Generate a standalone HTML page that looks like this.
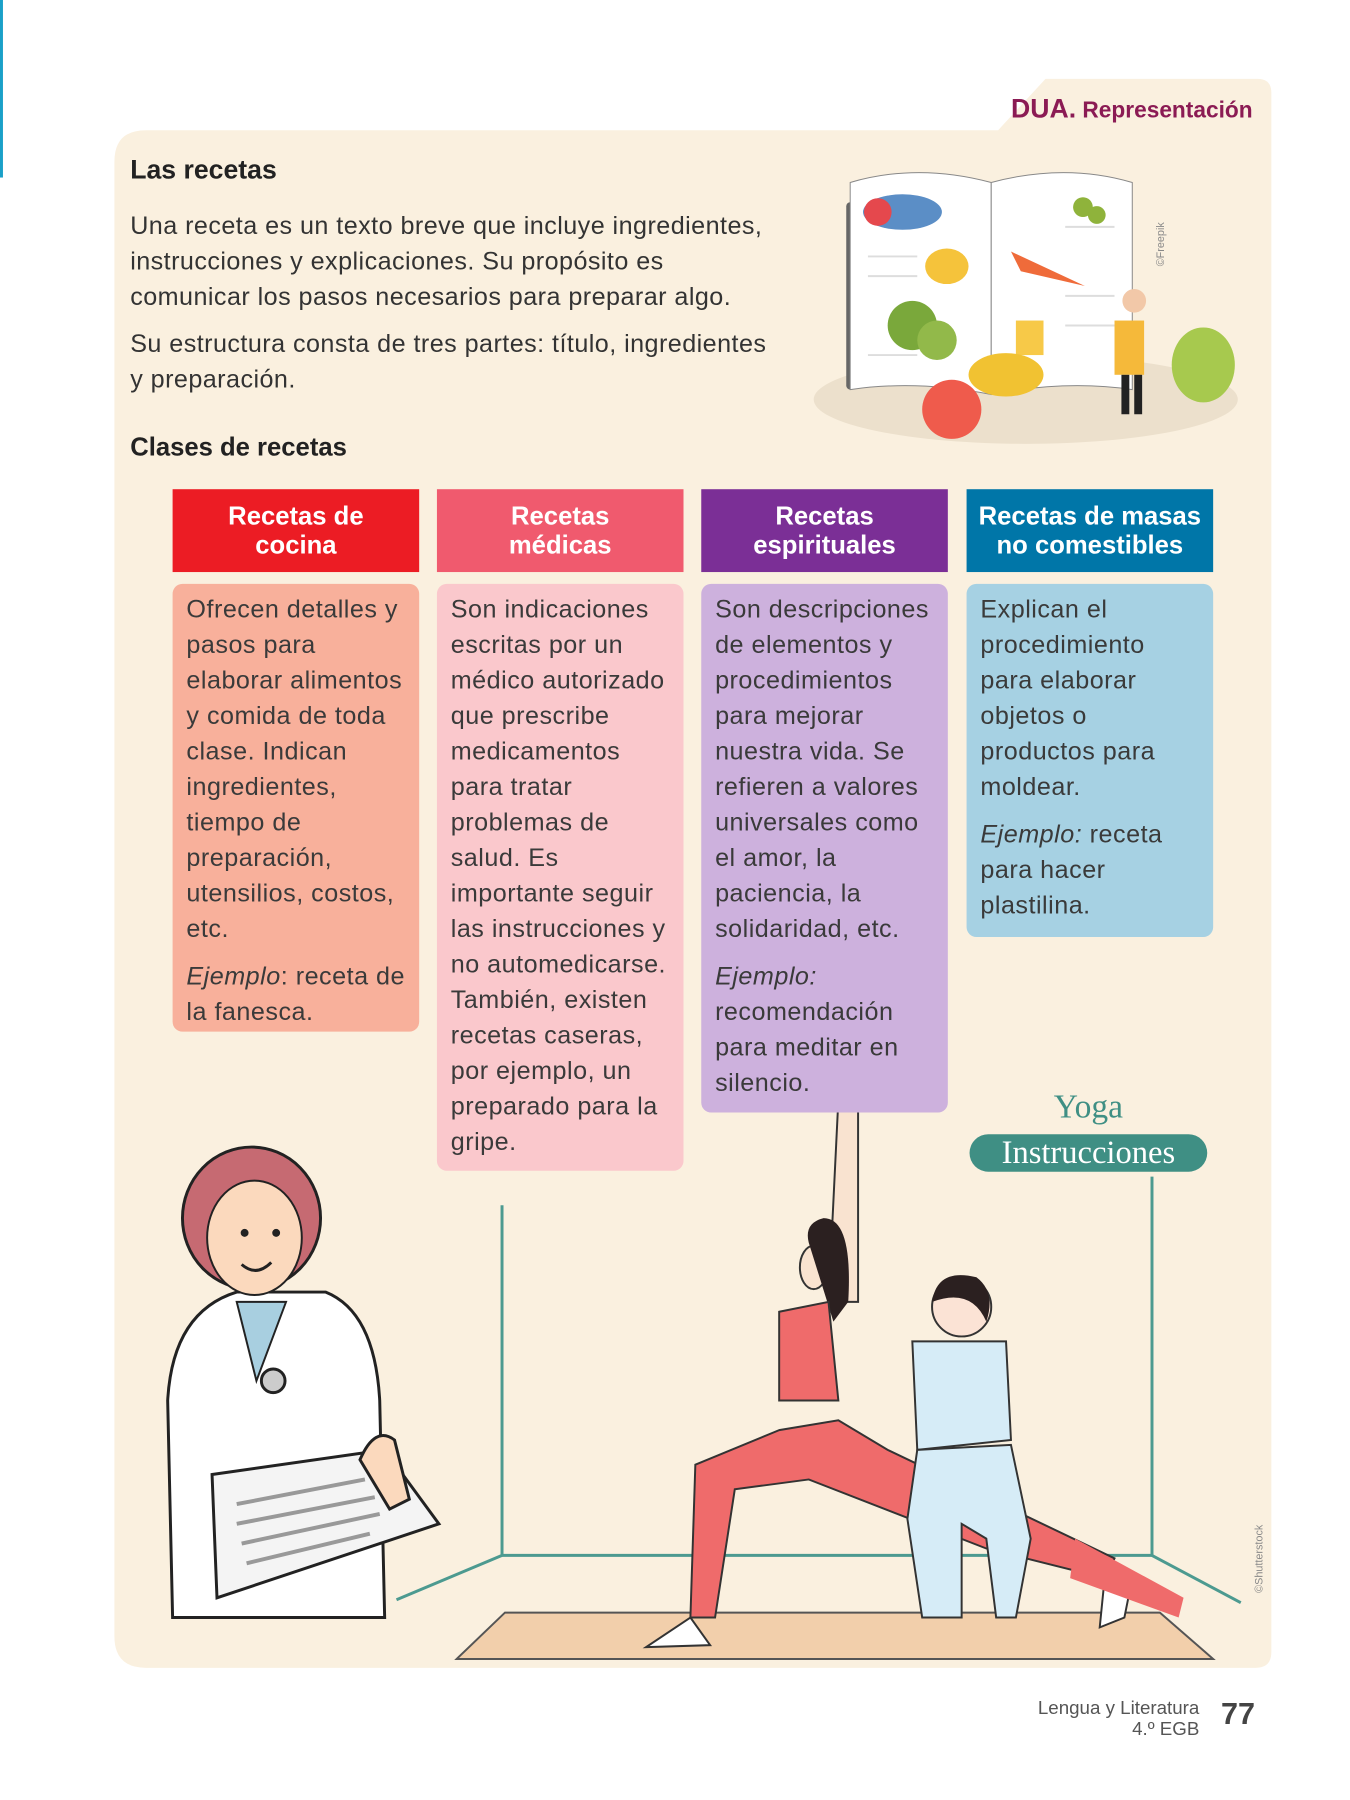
<!DOCTYPE html>
<html><head><meta charset="utf-8"><style>
body{margin:0;width:1350px;height:1800px;position:relative;background:#fff;font-family:"Liberation Sans",sans-serif;color:#333;overflow:hidden}
#w{position:absolute;left:0;top:0;width:1369px;height:1825px;transform:scale(0.9863);transform-origin:0 0}
.abs{position:absolute}
.hd{position:absolute;top:496px;height:84px;width:250px;color:#fff;font-weight:bold;font-size:26px;line-height:29px;text-align:center;display:flex;align-items:center;justify-content:center}
.bd{position:absolute;top:592px;width:250px;border-radius:10px;box-sizing:border-box;padding:8px 4px 0 14px;font-size:25.5px;line-height:36px;color:#3a3a3a;white-space:nowrap;letter-spacing:0.5px}
.bd p{margin:0 0 12px}
p{margin:0}
</style></head><body><div id="w">
<div class="abs" style="left:0;top:0;width:3px;height:180px;background:#1aa0c8"></div>
<svg class="abs" style="left:0;top:0" width="1369" height="1825">
<path d="M1012 132 L1060 80 L1275 80 Q1289 80 1289 94 L1289 1675 Q1289 1691 1273 1691 L148 1691 Q116 1691 116 1659 L116 164 Q116 132 148 132 Z" fill="#faf0df"/>
<ellipse cx="1040" cy="405" rx="215" ry="45" fill="#ece0cc"/>
<rect x="858" y="205" width="10" height="190" fill="#666" rx="4"/>
<path d="M862 185 Q930 165 1005 185 L1005 400 Q930 385 862 395 Z" fill="#fff" stroke="#888"/>
<path d="M1005 185 Q1080 165 1148 185 L1148 395 Q1080 385 1005 400 Z" fill="#fff" stroke="#888"/>
<g stroke="#ddd" stroke-width="2"><line x1="880" y1="260" x2="930" y2="260"/><line x1="880" y1="280" x2="930" y2="280"/><line x1="1080" y1="230" x2="1130" y2="230"/><line x1="1080" y1="300" x2="1130" y2="300"/><line x1="1080" y1="330" x2="1130" y2="330"/><line x1="880" y1="360" x2="930" y2="360"/></g>
<ellipse cx="915" cy="215" rx="40" ry="18" fill="#5b8ec6"/><circle cx="890" cy="215" r="14" fill="#e5484d"/>
<ellipse cx="960" cy="270" rx="22" ry="18" fill="#f5c33b"/>
<circle cx="1098" cy="210" r="10" fill="#8fb33b"/><circle cx="1112" cy="218" r="9" fill="#8fb33b"/>
<path d="M1025 255 L1100 290 L1035 275 Z" fill="#ef6b3a"/>
<circle cx="925" cy="330" r="25" fill="#7aa83b"/><circle cx="950" cy="345" r="20" fill="#92b94a"/>
<rect x="1030" y="325" width="28" height="35" fill="#f7c948"/>
<ellipse cx="1020" cy="380" rx="38" ry="22" fill="#f1c232"/>
<circle cx="965" cy="415" r="30" fill="#ef5b4c"/>
<ellipse cx="1220" cy="370" rx="32" ry="38" fill="#a7c94e"/>
<rect x="1130" y="325" width="30" height="55" fill="#f5b93a"/><circle cx="1150" cy="305" r="12" fill="#f2c8a8"/>
<rect x="1137" y="380" width="8" height="40" fill="#222"/><rect x="1150" y="380" width="8" height="40" fill="#222"/>
<g stroke="#4c9a90" stroke-width="3" fill="none"><line x1="509" y1="1222" x2="509" y2="1577"/><line x1="1168" y1="1193" x2="1168" y2="1577"/><line x1="509" y1="1577" x2="1168" y2="1577"/><line x1="509" y1="1577" x2="402" y2="1622"/><line x1="1168" y1="1577" x2="1258" y2="1625"/></g>
<path d="M463 1682 L512 1635 L1176 1635 L1230 1682 Z" fill="#f2cfab" stroke="#555" stroke-width="2"/>
<path d="M175 1640 L170 1420 Q175 1330 240 1310 L330 1310 Q380 1330 385 1420 L390 1640 Z" fill="#fff" stroke="#222" stroke-width="3"/>
<path d="M240 1320 L260 1400 L290 1320 Z" fill="#a8cfe0" stroke="#222" stroke-width="2"/>
<ellipse cx="255" cy="1235" rx="70" ry="72" fill="#c66a72" stroke="#222" stroke-width="3"/>
<ellipse cx="258" cy="1255" rx="48" ry="58" fill="#fbd9bd" stroke="#222" stroke-width="2"/>
<circle cx="248" cy="1250" r="4" fill="#222"/><circle cx="280" cy="1250" r="4" fill="#222"/>
<path d="M245 1282 Q260 1295 275 1280" stroke="#222" stroke-width="3" fill="none"/>
<circle cx="277" cy="1400" r="12" fill="#ccc" stroke="#222" stroke-width="3"/>
<path d="M215 1495 L390 1470 L445 1545 L220 1620 Z" fill="#f4f4f4" stroke="#222" stroke-width="3"/>
<g stroke="#999" stroke-width="4"><line x1="240" y1="1525" x2="370" y2="1500"/><line x1="240" y1="1545" x2="380" y2="1518"/><line x1="245" y1="1565" x2="385" y2="1535"/><line x1="250" y1="1585" x2="375" y2="1555"/></g>
<path d="M365 1480 Q380 1445 400 1460 L415 1520 L395 1530 Z" fill="#fbd9bd" stroke="#222" stroke-width="3"/>
<path d="M850 1115 L870 1110 L870 1320 L840 1320 Z" fill="#f9e3d0" stroke="#333" stroke-width="2"/>
<ellipse cx="825" cy="1285" rx="14" ry="22" fill="#f9e3d0" stroke="#333" stroke-width="2"/>
<path d="M820 1260 Q815 1240 835 1235 Q865 1235 860 1320 L845 1340 Z" fill="#2b2020"/>
<path d="M790 1330 L840 1320 L850 1420 L790 1420 Z" fill="#ef6b6b" stroke="#333" stroke-width="2"/>
<path d="M790 1450 L705 1485 L700 1640 L725 1640 L745 1510 L820 1500 L1000 1570 L1120 1600 L1130 1580 L900 1470 L850 1440 Z" fill="#ef6b6b" stroke="#333" stroke-width="2"/>
<path d="M700 1640 L655 1670 L720 1668 Z" fill="#fff" stroke="#333" stroke-width="2"/>
<path d="M1120 1600 L1115 1650 L1140 1640 L1148 1600 Z" fill="#fff" stroke="#333" stroke-width="2"/>
<circle cx="975" cy="1325" r="30" fill="#fbe3d5" stroke="#333" stroke-width="2"/>
<path d="M945 1320 Q950 1285 990 1295 Q1010 1310 1000 1340 Q985 1305 945 1320 Z" fill="#2b2020"/>
<path d="M925 1360 L1020 1360 L1025 1460 L930 1470 Z" fill="#d6ecf7" stroke="#333" stroke-width="2"/>
<path d="M930 1470 L1025 1465 L1045 1560 L1030 1640 L1010 1640 L1000 1560 L975 1545 L975 1640 L935 1640 L920 1540 Z" fill="#d6ecf7" stroke="#333" stroke-width="2"/>
<path d="M1090 1560 L1200 1620 L1195 1640 L1085 1600 Z" fill="#ef6b6b"/>
<text x="1280" y="1615" font-size="11" fill="#888" transform="rotate(-90 1280 1615)" font-family="Liberation Sans">©Shutterstock</text>
<text x="1180" y="270" font-size="11" fill="#888" transform="rotate(-90 1180 270)" font-family="Liberation Sans">©Freepik</text>
</svg>
<div class="abs" style="right:99px;top:95px;font-size:23px;color:#8b1b54"><b style="font-size:27px">DUA.</b> <b>Representación</b></div>
<div class="abs" style="left:132px;top:157px;font-size:27px;font-weight:bold;color:#222">Las recetas</div>
<div class="abs" style="left:132px;top:211px;width:760px;font-size:25.5px;line-height:36px;color:#333;white-space:nowrap;letter-spacing:0.45px">
<p>Una receta es un texto breve que incluye ingredientes,<br>instrucciones y explicaciones. Su propósito es<br>comunicar los pasos necesarios para preparar algo.</p>
<p style="margin-top:12px">Su estructura consta de tres partes: título, ingredientes<br>y preparación.</p></div>
<div class="abs" style="left:132px;top:438px;font-size:26px;font-weight:bold;color:#222">Clases de recetas</div>
<div class="hd" style="left:175px;background:#ec1c24">Recetas de<br>cocina</div>
<div class="hd" style="left:443px;background:#f05a6e">Recetas<br>médicas</div>
<div class="hd" style="left:711px;background:#7b2f96">Recetas<br>espirituales</div>
<div class="hd" style="left:980px;background:#0076a8">Recetas de masas<br>no comestibles</div>
<div class="bd" style="left:175px;height:454px;background:#f8b09b"><p>Ofrecen detalles y<br>pasos para<br>elaborar alimentos<br>y comida de toda<br>clase. Indican<br>ingredientes,<br>tiempo de<br>preparación,<br>utensilios, costos,<br>etc.</p><p><i>Ejemplo</i>: receta de<br>la fanesca.</p></div>
<div class="bd" style="left:443px;height:595px;background:#fac8cc"><p>Son indicaciones<br>escritas por un<br>médico autorizado<br>que prescribe<br>medicamentos<br>para tratar<br>problemas de<br>salud. Es<br>importante seguir<br>las instrucciones y<br>no automedicarse.<br>También, existen<br>recetas caseras,<br>por ejemplo, un<br>preparado para la<br>gripe.</p></div>
<div class="bd" style="left:711px;height:536px;background:#cdb1dd"><p>Son descripciones<br>de elementos y<br>procedimientos<br>para mejorar<br>nuestra vida. Se<br>refieren a valores<br>universales como<br>el amor, la<br>paciencia, la<br>solidaridad, etc.</p><p><i>Ejemplo:</i><br>recomendación<br>para meditar en<br>silencio.</p></div>
<div class="bd" style="left:980px;height:358px;background:#a6d1e3"><p>Explican el<br>procedimiento<br>para elaborar<br>objetos o<br>productos para<br>moldear.</p><p><i>Ejemplo:</i> receta<br>para hacer<br>plastilina.</p></div>
<div class="abs" style="left:983px;top:1104px;width:241px;text-align:center;font-family:'Liberation Serif',serif;font-size:34px;color:#3f8f84">Yoga</div>
<div class="abs" style="left:983px;top:1150px;width:241px;height:38px;border-radius:19px;background:#3f8f84;color:#fff;text-align:center;font-family:'Liberation Serif',serif;font-size:33px;line-height:38px">Instrucciones</div>
<div class="abs" style="right:153px;top:1722px;text-align:right;font-size:19px;line-height:21px;color:#555">Lengua y Literatura<br>4.º EGB</div>
<div class="abs" style="left:1238px;top:1720px;font-size:31px;font-weight:bold;color:#444">77</div>
</div></body></html>
